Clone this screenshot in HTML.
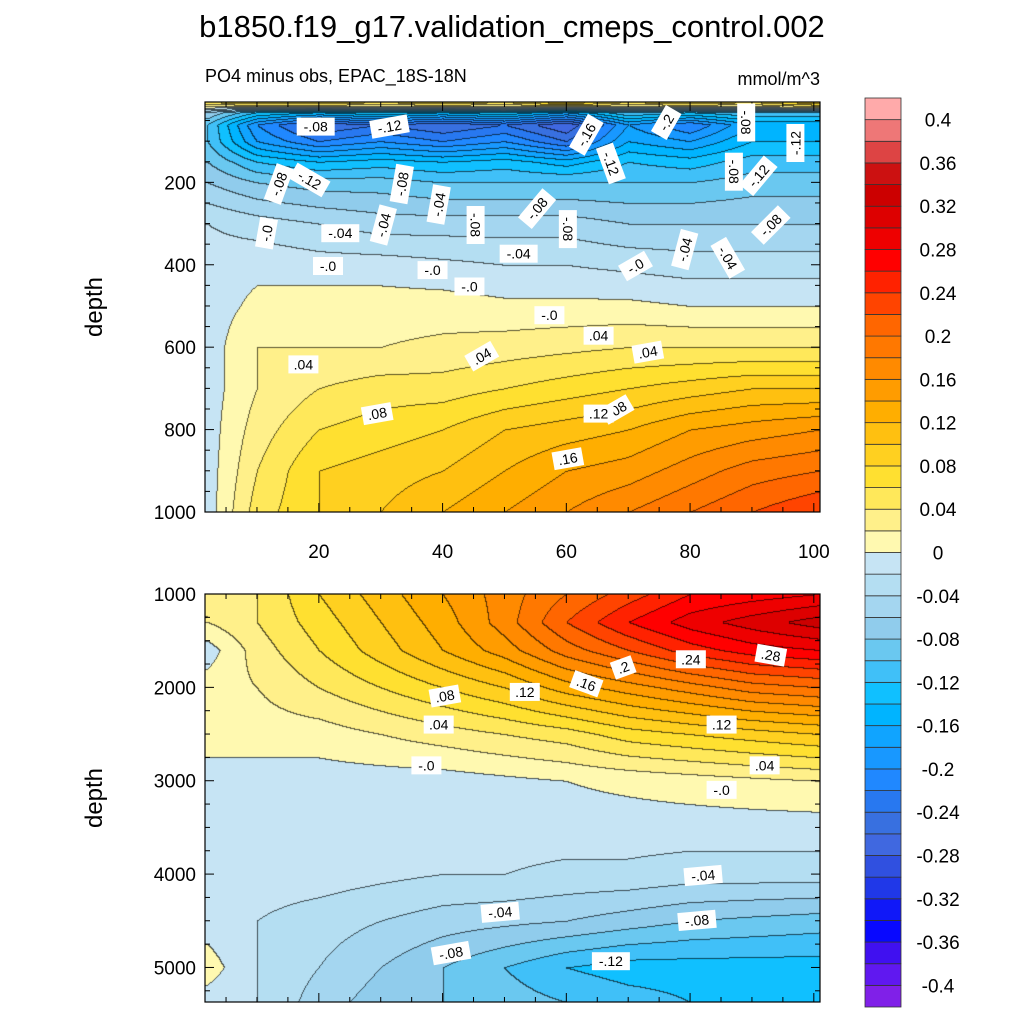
<!DOCTYPE html>
<html><head><meta charset="utf-8"><style>
body{margin:0;background:#fff;width:1024px;height:1024px;overflow:hidden;font-family:"Liberation Sans",sans-serif}
svg text{font-family:"Liberation Sans",sans-serif}
</style></head><body>
<svg id="root" width="1024" height="1024" xmlns="http://www.w3.org/2000/svg">
<text x="512" y="37" text-anchor="middle" font-size="31">b1850.f19_g17.validation_cmeps_control.002</text>
<text x="205" y="82" font-size="18">PO4 minus obs, EPAC_18S-18N</text>
<text x="820" y="85" text-anchor="end" font-size="18">mmol/m^3</text>
<foreignObject x="205" y="102" width="615" height="410"><canvas xmlns="http://www.w3.org/1999/xhtml" id="c1" width="615" height="410"></canvas></foreignObject>
<foreignObject x="205" y="594" width="615" height="408"><canvas xmlns="http://www.w3.org/1999/xhtml" id="c2" width="615" height="408"></canvas></foreignObject>
<g id="axes"></g>
<g id="labels"></g>
<g id="cbar"></g>
</svg>
<script>
const levels=[-0.4,-0.38,-0.36,-0.34,-0.32,-0.3,-0.28,-0.26,-0.24,-0.22,-0.2,-0.18,-0.16,-0.14,-0.12,-0.1,-0.08,-0.06,-0.04,-0.02,0,0.02,0.04,0.06,0.08,0.1,0.12,0.14,0.16,0.18,0.2,0.22,0.24,0.26,0.28,0.3,0.32,0.34,0.36,0.38,0.4];
const colors=["#8020E8","#6018F0","#4010F0","#0808FF","#1018F8","#2038E8","#3050E0","#4068E0","#3870E0","#2878F0","#2088FF","#1898FF","#10A4FF","#00B4FF","#10C0FF","#40C0F8","#6AC8F0","#90CCEC","#A4D6F0","#B4DEF2","#C6E4F4",
"#FFF9B0","#FFF08A","#FFE85A","#FFE030","#FFD020","#FFC010","#FFAE00","#FF9C00","#FF8A00","#FF7800","#FF6600","#FF4400","#FF2200","#FF0000","#EE0000","#DD0000","#CC0000","#CC1111","#DD4444","#EE7777","#FFAAAA"];
const cbarLabels=["0.4","0.36","0.32","0.28","0.24","0.2","0.16","0.12","0.08","0.04","0","-0.04","-0.08","-0.12","-0.16","-0.2","-0.24","-0.28","-0.32","-0.36","-0.4"];
const xCols=[2,10,20,30,40,50,60,70,80,90,101];
const topDepths=[5,15,30,60,100,150,200,300,400,500,600,700,800,900,1000];
const topVals=[
[0.06,0.08,0.08,0.06,0.08,0.06,0.1,0.06,0.08,0.06,0.1],
[0.02,0.02,0.02,0.02,0.02,0.02,0.02,0.02,0.02,0.02,0.04],
[-0.06,-0.12,-0.14,-0.12,-0.14,-0.12,-0.16,-0.1,-0.12,-0.1,-0.1],
[-0.1,-0.2,-0.26,-0.24,-0.26,-0.24,-0.28,-0.18,-0.22,-0.16,-0.16],
[-0.1,-0.18,-0.22,-0.2,-0.22,-0.2,-0.24,-0.16,-0.18,-0.14,-0.14],
[-0.08,-0.12,-0.14,-0.13,-0.14,-0.13,-0.15,-0.12,-0.13,-0.11,-0.11],
[-0.06,-0.08,-0.09,-0.09,-0.1,-0.1,-0.1,-0.1,-0.1,-0.09,-0.09],
[-0.02,-0.03,-0.04,-0.05,-0.05,-0.05,-0.05,-0.06,-0.06,-0.06,-0.06],
[-0.01,-0.005,-0.01,-0.01,-0.015,-0.02,-0.02,-0.025,-0.03,-0.03,-0.03],
[-0.01,0.005,0.01,0.01,0.01,0.005,0.005,0.005,0.0,0.0,0.0],
[-0.01,0.02,0.02,0.02,0.025,0.03,0.035,0.04,0.04,0.04,0.04],
[-0.01,0.02,0.04,0.05,0.05,0.06,0.07,0.08,0.09,0.1,0.1],
[-0.01,0.03,0.06,0.07,0.08,0.1,0.11,0.12,0.14,0.15,0.16],
[-0.01,0.04,0.08,0.09,0.1,0.12,0.14,0.15,0.17,0.19,0.2],
[-0.01,0.05,0.08,0.1,0.12,0.14,0.16,0.18,0.2,0.22,0.24]];
const botDepths=[1000,1300,1600,2000,2500,3000,3500,4000,4500,5000,5370];
const botVals=[
[0.02,0.04,0.08,0.11,0.14,0.17,0.2,0.23,0.26,0.27,0.28],
[0.02,0.04,0.07,0.1,0.13,0.17,0.22,0.26,0.29,0.31,0.33],
[-0.01,0.03,0.06,0.09,0.12,0.15,0.19,0.22,0.25,0.27,0.28],
[0.01,0.02,0.04,0.06,0.08,0.1,0.13,0.15,0.17,0.19,0.2],
[0.01,0.01,0.01,0.02,0.03,0.04,0.05,0.07,0.08,0.09,0.1],
[-0.01,-0.01,-0.01,-0.01,-0.01,-0.005,0.0,0.005,0.01,0.015,0.02],
[-0.01,-0.01,-0.01,-0.01,-0.01,-0.01,-0.01,-0.01,-0.01,-0.01,-0.01],
[-0.01,-0.01,-0.01,-0.015,-0.02,-0.02,-0.025,-0.025,-0.03,-0.03,-0.03],
[-0.01,-0.02,-0.03,-0.04,-0.05,-0.055,-0.06,-0.07,-0.08,-0.085,-0.09],
[0.01,-0.02,-0.04,-0.06,-0.08,-0.1,-0.12,-0.13,-0.13,-0.13,-0.13],
[-0.01,-0.02,-0.05,-0.07,-0.08,-0.09,-0.1,-0.11,-0.12,-0.12,-0.12]];
const topLabels=[[0.3,0.06,"-.12",-10],[0.18,0.06,"-.08",0],[0.12,0.2,"-.08",-70],[0.17,0.19,"-.12",30],[0.22,0.32,"-.04",0],[0.2,0.4,"-.0",0],[0.37,0.41,"-.0",0],[0.1,0.32,"-.0",-80],[0.43,0.45,"-.0",0],[0.51,0.37,"-.04",0],[0.56,0.52,"-.0",0],[0.72,0.61,".04",-10],[0.67,0.75,".08",-30],[0.45,0.62,".04",-30],[0.16,0.64,".04",0],[0.28,0.76,".08",-10],[0.64,0.76,".12",0],[0.59,0.87,".16",-10],[0.64,0.57,".04",0],[0.7,0.4,"-.0",-30],[0.78,0.36,"-.04",-75],[0.85,0.38,"-.04",60],[0.92,0.3,"-.08",-45],[0.86,0.17,"-.08",90],[0.88,0.05,"-.08",90],[0.75,0.05,"-.2",-60],[0.62,0.08,"-.16",-60],[0.54,0.26,"-.08",-50],[0.59,0.31,"-.08",90],[0.44,0.3,"-.08",90],[0.38,0.25,"-.04",-80],[0.32,0.2,"-.08",-80],[0.9,0.18,"-.12",-50],[0.96,0.1,"-.12",-90],[0.29,0.3,"-.04",-75],[0.66,0.15,"-.12",70]];
const botLabels=[[0.39,0.25,".08",-10],[0.52,0.24,".12",0],[0.62,0.22,".16",20],[0.68,0.18,".2",-20],[0.79,0.16,".24",0],[0.92,0.15,".28",10],[0.38,0.32,".04",0],[0.36,0.42,"-.0",0],[0.84,0.32,".12",0],[0.91,0.42,".04",0],[0.84,0.48,"-.0",0],[0.81,0.69,"-.04",-5],[0.48,0.78,"-.04",-5],[0.8,0.8,"-.08",-5],[0.4,0.88,"-.08",-10],[0.66,0.9,"-.12",0]];

function interp(arr,v){let i=0;while(i<arr.length-2&&v>arr[i+1])i++;let t=(v-arr[i])/(arr[i+1]-arr[i]);return [i,Math.max(0,Math.min(1,t))];}
function levelIdx(v){let k=0;while(k<levels.length&&v>=levels[k])k++;return k;}
function hex(c){return [parseInt(c.substr(1,2),16),parseInt(c.substr(3,2),16),parseInt(c.substr(5,2),16)];}
const rgb=colors.map(hex);
function drawField(id,W,H,dMin,dMax,depths,vals){
 const ctx=document.getElementById(id).getContext('2d');const img=ctx.createImageData(W,H);
 const xMin=1.6,xMax=101;const L=new Int16Array(W*H);
 for(let py=0;py<H;py++){const d=dMin+(py+0.5)/H*(dMax-dMin);const [i,t]=interp(depths,d);
  for(let px=0;px<W;px++){const x=xMin+(px+0.5)/W*(xMax-xMin);const [j,s]=interp(xCols,x);
   const v=(1-t)*((1-s)*vals[i][j]+s*vals[i][j+1])+t*((1-s)*vals[i+1][j]+s*vals[i+1][j+1]);
   L[py*W+px]=levelIdx(v);}}
 for(let p=0;p<W*H;p++){const k=L[p];let c=rgb[k];const px=p%W;
  let edge=(px>0&&L[p-1]!==k)||(p>=W&&L[p-W]!==k);
  const o=p*4;if(edge){img.data[o]=c[0]*0.35;img.data[o+1]=c[1]*0.35;img.data[o+2]=c[2]*0.35;}else{img.data[o]=c[0];img.data[o+1]=c[1];img.data[o+2]=c[2];}img.data[o+3]=255;}
 ctx.putImageData(img,0,0);
}
drawField('c1',615,410,5,1000,topDepths,topVals);
drawField('c2',615,408,1000,5370,botDepths,botVals);

const NS="http://www.w3.org/2000/svg";
function el(tag,attrs,parent){const e=document.createElementNS(NS,tag);for(const k in attrs)e.setAttribute(k,attrs[k]);parent.appendChild(e);return e;}
const axes=document.getElementById('axes');
const xTicks=[20,40,60,80,100];
const topDTicks=[200,400,600,800,1000];
const botDTicks=[1000,2000,3000,4000,5000];
function xPix(x){return 205+(x-1.6)/(101-1.6)*615;}
function panel(y0,h,dMin,dMax,dTicks,minorStep,name,labelX){
 const r=el('rect',{x:205,y:y0,width:615,height:h,fill:'none',stroke:'#000','stroke-width':1.2},axes);
 
 
 const yP=d=>y0+(d-dMin)/(dMax-dMin)*h;
 for(let x=5;x<=100;x+=5){const X=xPix(x);const len=x%20===0?9:5;
  el('line',{x1:X,x2:X,y1:y0+h,y2:y0+h-len,stroke:'#000'},axes);el('line',{x1:X,x2:X,y1:y0,y2:y0+len,stroke:'#000'},axes);}
 for(let d=Math.ceil(dMin/minorStep)*minorStep;d<=dMax;d+=minorStep){const Y=yP(d);const major=dTicks.includes(d);const len=major?9:5;
  el('line',{x1:205,x2:205+len,y1:Y,y2:Y,stroke:'#000'},axes);el('line',{x1:820,x2:820-len,y1:Y,y2:Y,stroke:'#000'},axes);}
 dTicks.forEach(d=>{const t=el('text',{x:196,y:yP(d)+7,'text-anchor':'end','font-size':19},axes);t.textContent=d;
  
  });
 if(labelX){xTicks.forEach(x=>{const t=el('text',{x:xPix(x),y:y0+h+46,'text-anchor':'middle','font-size':19},axes);t.textContent=x;
  
  });}
 const yl=el('text',{x:102,y:y0+h/2,'text-anchor':'middle','font-size':24,transform:'rotate(-90 102 '+(y0+h/2)+')'},axes);yl.textContent='depth';
 
 
}
panel(102,410,5,1000,topDTicks,50,'top-panel',true);
panel(594,408,1000,5370,botDTicks,250,'bottom-panel',false);

const lg=document.getElementById('labels');
function clabels(list,x0,y0,w,h,name){list.forEach(l=>{const cx=x0+l[0]*w,cy=y0+l[1]*h;
 const g=el('g',{transform:'translate('+cx+' '+cy+') rotate('+l[3]+')'},lg);
 
 
 const tw=l[2].length*8+6;el('rect',{x:-tw/2,y:-9,width:tw,height:18,fill:'#fff'},g);
 const t=el('text',{x:0,y:5,'text-anchor':'middle','font-size':14},g);t.textContent=l[2];});}
clabels(topLabels,205,102,615,410,'top');
clabels(botLabels,205,594,615,408,'bottom');

const cb=document.getElementById('cbar');const bh=(1007-98)/42;
for(let k=0;k<42;k++){const r=el('rect',{x:865,y:1007-(k+1)*bh,width:36,height:bh,fill:colors[k],stroke:'#333','stroke-width':0.8},cb);
 
 }
cbarLabels.forEach((s,i)=>{const y=98+bh*(1+2*i);const t=el('text',{x:938,y:y+7,'text-anchor':'middle','font-size':19},cb);t.textContent=s;
 
 });
</script>
</body></html>
